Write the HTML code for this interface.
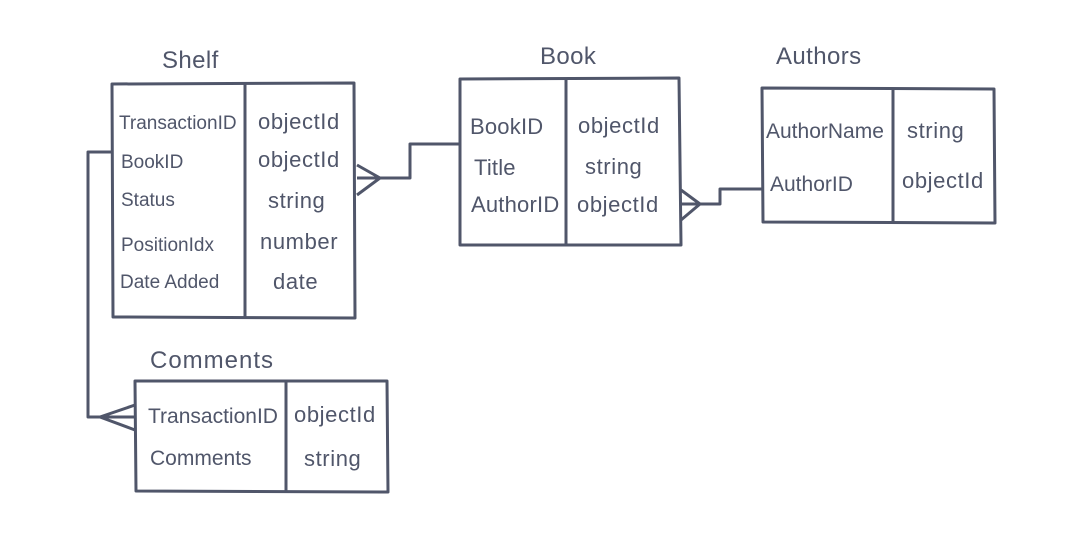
<!DOCTYPE html>
<html><head><style>
body{margin:0;background:#fff;width:1083px;height:535px;overflow:hidden}
svg text{font-family:"Liberation Sans",sans-serif;fill:#50566a}
</style></head><body>
<svg width="1083" height="535" viewBox="0 0 1083 535" xmlns="http://www.w3.org/2000/svg">
<g fill="none" stroke="#50566a" stroke-width="3" stroke-linejoin="round">
<path d="M112 84 L354 83 L355 318 L113 317 Z"/>
<path d="M245 84 L245 317"/>
<path d="M460 79 L679 78 L681 245 L460 245 Z"/>
<path d="M566 79 L566 245"/>
<path d="M762 88 L994 89 L995 223 L763 222 Z"/>
<path d="M893 89 L893 222"/>
<path d="M135 381 L387 381 L388 492 L136 491 Z"/>
<path d="M286 381 L286 491"/>
<path d="M357 165 L380 178 L357 195 M357 178 L410 178 L410 144 L460 144"/>
<path d="M681 190 L700 204 L681 220 M681 204 L720 204 L720 189 L762 189"/>
<path d="M112 152 L88 152 L88 417 L135 417 M100 417 L135 405 M100 417 L135 430"/>
</g>
<g font-size="24" letter-spacing="0.4">
<text x="162" y="68">Shelf</text>
<text x="540" y="64">Book</text>
<text x="776" y="64">Authors</text>
<text x="150" y="368" letter-spacing="1">Comments</text>
</g>
<g font-size="19">
<text x="119" y="129">TransactionID</text>
<text x="121" y="168">BookID</text>
<text x="121" y="206">Status</text>
<text x="121" y="251">PositionIdx</text>
<text x="120" y="288">Date Added</text>
</g>
<g font-size="22" letter-spacing="0.6">
<text x="258" y="129">objectId</text>
<text x="258" y="167">objectId</text>
<text x="268" y="208">string</text>
<text x="260" y="249">number</text>
<text x="273" y="289">date</text>
<text x="470" y="134" letter-spacing="0.2">BookID</text>
<text x="474" y="175" letter-spacing="0.2">Title</text>
<text x="471" y="212" letter-spacing="0.2">AuthorID</text>
<text x="578" y="133">objectId</text>
<text x="585" y="174">string</text>
<text x="577" y="212">objectId</text>
<text x="766" y="138" font-size="21" letter-spacing="0">AuthorName</text>
<text x="770" y="191" font-size="21" letter-spacing="0">AuthorID</text>
<text x="907" y="138">string</text>
<text x="902" y="188">objectId</text>
<text x="148" y="423" font-size="21" letter-spacing="0">TransactionID</text>
<text x="150" y="465" font-size="21" letter-spacing="0">Comments</text>
<text x="294" y="422">objectId</text>
<text x="304" y="466">string</text>
</g>
</svg>
</body></html>
